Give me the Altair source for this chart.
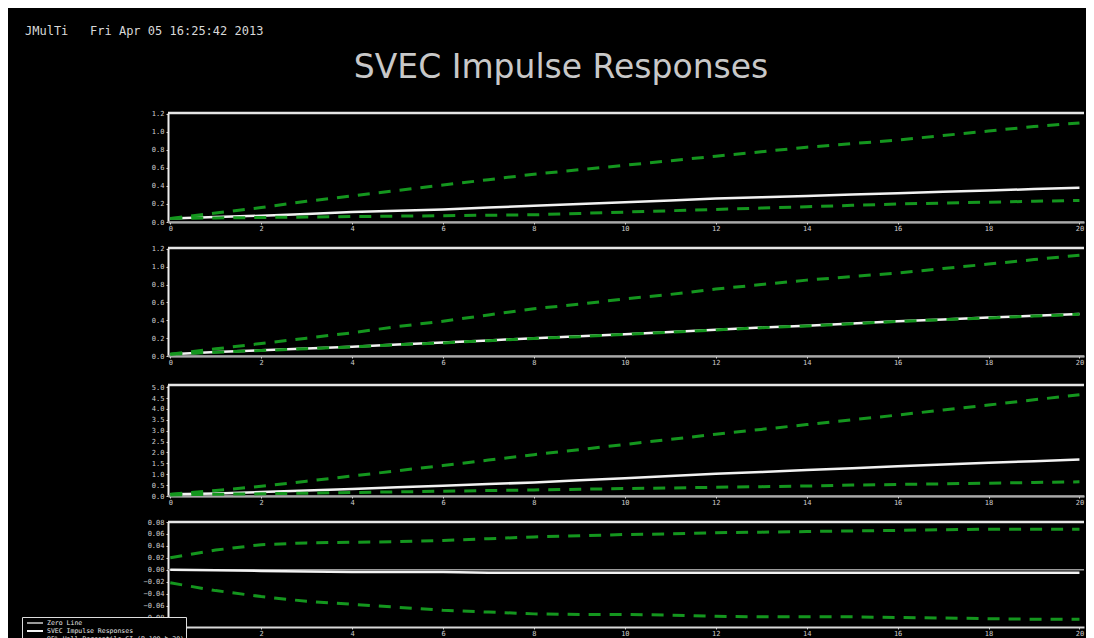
import altair as alt
import pandas as pd

steps = list(range(21))

# Panel 1
p1_resp = [0.04, 0.055, 0.07, 0.09, 0.11, 0.125, 0.14, 0.16, 0.18, 0.20, 0.22, 0.24, 0.26, 0.275, 0.29, 0.305, 0.32, 0.335, 0.35, 0.365, 0.38]
p1_low = [0.04, 0.045, 0.05, 0.055, 0.06, 0.065, 0.07, 0.075, 0.08, 0.095, 0.11, 0.125, 0.14, 0.155, 0.17, 0.185, 0.20, 0.21, 0.22, 0.23, 0.24]
p1_up = [0.04, 0.10, 0.16, 0.23, 0.29, 0.35, 0.41, 0.47, 0.53, 0.58, 0.63, 0.68, 0.73, 0.78, 0.83, 0.87, 0.91, 0.96, 1.01, 1.06, 1.10]

# Panel 2
p2_resp = [0.02, 0.045, 0.065, 0.085, 0.105, 0.13, 0.15, 0.175, 0.20, 0.22, 0.245, 0.27, 0.295, 0.32, 0.34, 0.365, 0.39, 0.41, 0.43, 0.45, 0.47]
p2_low = [0.02, 0.042, 0.062, 0.082, 0.102, 0.127, 0.147, 0.172, 0.197, 0.217, 0.242, 0.267, 0.292, 0.317, 0.337, 0.362, 0.387, 0.407, 0.427, 0.447, 0.467]
p2_up = [0.02, 0.08, 0.14, 0.20, 0.26, 0.33, 0.39, 0.46, 0.53, 0.58, 0.64, 0.69, 0.75, 0.80, 0.85, 0.89, 0.93, 0.98, 1.03, 1.08, 1.13]

# Panel 3
p3_resp = [0.08, 0.12, 0.18, 0.25, 0.32, 0.40, 0.47, 0.55, 0.62, 0.72, 0.82, 0.92, 1.02, 1.10, 1.20, 1.28, 1.37, 1.45, 1.53, 1.60, 1.68]
p3_low = [0.05, 0.08, 0.10, 0.13, 0.16, 0.19, 0.22, 0.25, 0.28, 0.31, 0.34, 0.37, 0.40, 0.43, 0.46, 0.50, 0.53, 0.56, 0.59, 0.62, 0.65]
p3_up = [0.08, 0.25, 0.45, 0.68, 0.92, 1.16, 1.40, 1.65, 1.90, 2.13, 2.37, 2.60, 2.84, 3.06, 3.28, 3.50, 3.72, 3.95, 4.18, 4.42, 4.65]

# Panel 4
p4_resp = [0.0, -0.001, -0.002, -0.003, -0.004, -0.004, -0.004, -0.005, -0.005, -0.005, -0.005, -0.005, -0.005, -0.005, -0.005, -0.005, -0.005, -0.005, -0.005, -0.005, -0.005]
p4_low = [-0.022, -0.035, -0.045, -0.053, -0.058, -0.063, -0.068, -0.071, -0.074, -0.075, -0.075, -0.076, -0.078, -0.079, -0.079, -0.079, -0.080, -0.081, -0.082, -0.083, -0.083]
p4_up = [0.020, 0.033, 0.042, 0.045, 0.046, 0.047, 0.049, 0.052, 0.055, 0.057, 0.059, 0.060, 0.062, 0.063, 0.064, 0.065, 0.066, 0.067, 0.068, 0.068, 0.068]

x_ticks = [0, 2, 4, 6, 8, 10, 12, 14, 16, 18, 20]
p12_ticks = [0.0, 0.2, 0.4, 0.6, 0.8, 1.0, 1.2]
p3_ticks = [0.0, 0.5, 1.0, 1.5, 2.0, 2.5, 3.0, 3.5, 4.0, 4.5, 5.0]
p4_ticks = [-0.08, -0.06, -0.04, -0.02, 0.0, 0.02, 0.04, 0.06, 0.08]

SERIES = ["Zero Line", "SVEC Impulse Responses", "95% Hall Percentile CI (B=100 h=20)"]
COLORS = ["#9a9a9a", "#f2f2f2", "#14961e"]

header = "JMulTi\u00a0\u00a0\u00a0Fri Apr 05 16:25:42 2013"
main_title = "SVEC Impulse Responses"

W = 916

color_enc = alt.Color(
    "series:N",
    scale=alt.Scale(domain=SERIES, range=COLORS),
    legend=alt.Legend(
        title=None, orient="none", legendX=-146, legendY=504,
        symbolType="M-0.33,0H5", symbolSize=36, symbolStrokeWidth=2,
        labelFontSize=6.5, labelFont="DejaVu Sans Mono", labelColor="#e6e6e6",
        strokeColor="#dddddd", fillColor="#000000", padding=2, rowPadding=0,
        labelLimit=400, labelOffset=15,
    ),
)


def panel(resp, low, up, ydom, yticks, fmt, h, title=None, xext=None):
    resp_df = pd.DataFrame({"step": steps, "value": resp, "series": SERIES[1], "line": "resp"})
    ci_df = pd.concat([
        pd.DataFrame({"step": steps, "value": low, "series": SERIES[2], "line": "low"}),
        pd.DataFrame({"step": steps, "value": up, "series": SERIES[2], "line": "up"}),
    ])
    top_df = pd.DataFrame({"value": [ydom[1]]})
    zero_df = pd.DataFrame({"value": [0.0], "series": [SERIES[0]]})
    xaxis_kw = dict(values=x_ticks, title=None, format="d", labelOverlap=False,
                    domain=True, domainColor="#d8d8d8", domainWidth=2, labelPadding=0)
    if xext is not None:
        xaxis_kw["minExtent"] = xext
    x = alt.X("step:Q", scale=alt.Scale(domain=[-0.05, 20.1], nice=False, zero=False),
              axis=alt.Axis(**xaxis_kw))
    y = alt.Y("value:Q", scale=alt.Scale(domain=ydom, nice=False, zero=False),
              axis=alt.Axis(values=yticks, format=fmt, title=None, minExtent=160, maxExtent=160,
                            labelOverlap=False, domain=True, domainColor="#eeeeee", domainWidth=2,
                            labelPadding=2))
    top = alt.Chart(top_df).mark_rule(color="#e6e6e6", strokeWidth=2.5).encode(y=y)
    zero = alt.Chart(zero_df).mark_rule(strokeWidth=1.5).encode(y=y, color=color_enc)
    rline = alt.Chart(resp_df).mark_line(strokeWidth=2.5).encode(x=x, y=y, color=color_enc, detail="line:N")
    cline = alt.Chart(ci_df).mark_line(strokeWidth=3, strokeDash=[12, 9]).encode(
        x=x, y=y, color=color_enc, detail="line:N")
    layer = alt.layer(top, zero, rline, cline).properties(width=W, height=h)
    if title is not None:
        layer = layer.properties(title=title)
    return layer


t1 = alt.TitleParams(main_title, anchor="middle", font="DejaVu Sans", fontSize=33, fontWeight="normal",
                     color="#c8c8c8", dx=-65, offset=25)

c1 = panel(p1_resp, p1_low, p1_up, [0, 1.21], p12_ticks, ".1f", 109, t1)
c2 = panel(p2_resp, p2_low, p2_up, [0, 1.21], p12_ticks, ".1f", 108, xext=14)
c3 = panel(p3_resp, p3_low, p3_up, [0, 5.1], p3_ticks, ".1f", 111)
c4 = panel(p4_resp, p4_low, p4_up, [-0.096, 0.08], p4_ticks, ".2f", 105)

chart = alt.vconcat(c1, c2, c3, c4, spacing=13).properties(
    title=alt.TitleParams(header, anchor="start", frame="bounds", font="DejaVu Sans Mono", fontSize=12,
                          fontWeight="normal", color="#d9d9d9", dx=17, offset=14),
    background="#000000",
    padding={"left": 0, "top": 16, "right": 0, "bottom": 0},
).configure_view(
    stroke=None
).configure_axis(
    grid=False, labelColor="#cfcfcf", labelFont="DejaVu Sans Mono", labelFontSize=7,
    tickColor="#cfcfcf", tickSize=2,
)

chart.save("out.html", embed_options={"renderer": "svg", "actions": False})
